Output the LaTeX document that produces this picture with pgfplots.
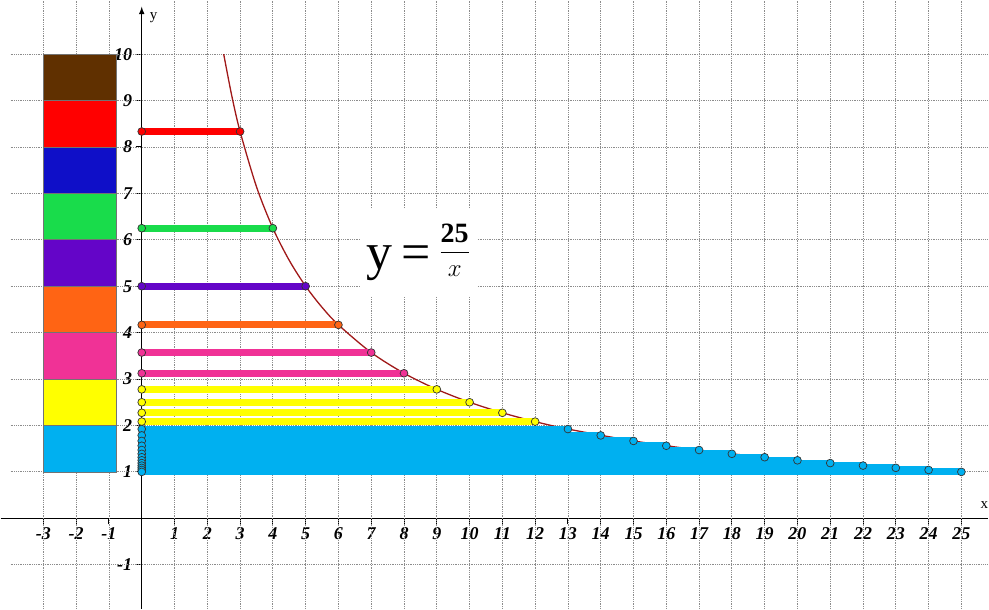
\documentclass[border=0pt]{standalone}
\usepackage{pgfplots}
\pgfplotsset{compat=1.18}
\usepackage{amsmath}
\usepackage{fontspec}
\setmainfont{Liberation Serif}

\definecolor{cbrown}{RGB}{96,48,0}
\definecolor{cred}{RGB}{255,0,0}
\definecolor{cblue}{RGB}{15,15,200}
\definecolor{cgreen}{RGB}{25,220,75}
\definecolor{cpurple}{RGB}{100,5,200}
\definecolor{corange}{RGB}{255,100,20}
\definecolor{cpink}{RGB}{240,50,150}
\definecolor{cyellow}{RGB}{255,255,0}
\definecolor{clight}{RGB}{0,176,240}
\definecolor{curve}{RGB}{160,25,25}

\pgfplotsset{
  hbar/.style={color=#1, line width=7pt, mark=*, mark size=3.9pt,
    mark options={fill=#1, draw=black!80, line width=0.7pt}},
  swatch/.style={fill=#1, draw=black!55, line width=0.7pt},
}

\begin{document}
\begin{tikzpicture}
\begin{axis}[
  width=989pt, height=609pt, scale only axis,
  xmin=-4.30, xmax=25.82, ymin=-1.95, ymax=11.15,
  axis lines=middle,
  axis line style={line width=1.5pt, black},
  x axis line style={-},
  y axis line style={-latex, shorten >=6pt},
  xtick={-3,-2,-1,1,2,...,25},
  ytick={-1,1,2,...,10},
  tick align=outside, major tick length=6pt,
  tick style={line width=1pt, black},
  ticklabel style={font=\fontsize{18}{18}\selectfont\bfseries\itshape},
  /pgf/number format/assume math mode=true,
]

% dotted grid
\pgfplotsinvokeforeach{-3,-2,-1,1,2,...,25}{
  \draw[gray!90, densely dotted, line width=0.8pt] (axis cs:#1,-1.95) -- (axis cs:#1,11.15);
}
\pgfplotsinvokeforeach{-1,1,2,...,10}{
  \draw[gray!90, densely dotted, line width=0.8pt] (axis cs:-4,#1) -- (axis cs:25.82,#1);
}

% colour column on the left
\addplot[swatch=clight]  coordinates {(-3,1) (-0.77,1) (-0.77,2) (-3,2) (-3,1)};
\addplot[swatch=cyellow] coordinates {(-3,2) (-0.77,2) (-0.77,3) (-3,3) (-3,2)};
\addplot[swatch=cpink]   coordinates {(-3,3) (-0.77,3) (-0.77,4) (-3,4) (-3,3)};
\addplot[swatch=corange] coordinates {(-3,4) (-0.77,4) (-0.77,5) (-3,5) (-3,4)};
\addplot[swatch=cpurple] coordinates {(-3,5) (-0.77,5) (-0.77,6) (-3,6) (-3,5)};
\addplot[swatch=cgreen]  coordinates {(-3,6) (-0.77,6) (-0.77,7) (-3,7) (-3,6)};
\addplot[swatch=cblue]   coordinates {(-3,7) (-0.77,7) (-0.77,8) (-3,8) (-3,7)};
\addplot[swatch=cred]    coordinates {(-3,8) (-0.77,8) (-0.77,9) (-3,9) (-3,8)};
\addplot[swatch=cbrown]  coordinates {(-3,9) (-0.77,9) (-0.77,10) (-3,10) (-3,9)};

% the curve y = 25/x
\addplot[smooth, color=curve, line width=1.3pt] coordinates {
  (2.5,10) (2.75,9.091) (3,8.333) (3.5,7.143) (4,6.25) (4.5,5.556) (5,5)
  (5.5,4.545) (6,4.167) (7,3.571) (8,3.125) (9,2.778) (10,2.5) (11,2.273)
  (12,2.083) (13,1.923) (15,1.667) (17,1.471) (19,1.316) (21,1.190)
  (23,1.087) (25,1.0)
};

% horizontal bars
\addplot[hbar=cred]    coordinates {(0,8.333) (3,8.333)};
\addplot[hbar=cgreen]  coordinates {(0,6.25) (4,6.25)};
\addplot[hbar=cpurple] coordinates {(0,5) (5,5)};
\addplot[hbar=corange] coordinates {(0,4.167) (6,4.167)};
\addplot[hbar=cpink]   coordinates {(0,3.571) (7,3.571)};
\addplot[hbar=cpink]   coordinates {(0,3.125) (8,3.125)};
\addplot[hbar=cyellow] coordinates {(0,2.778) (9,2.778)};
\addplot[hbar=cyellow] coordinates {(0,2.5) (10,2.5)};
\addplot[hbar=cyellow] coordinates {(0,2.273) (11,2.273)};
\addplot[hbar=cyellow] coordinates {(0,2.083) (12,2.083)};
\addplot[hbar=clight]  coordinates {(0,1.923) (13,1.923)};
\addplot[hbar=clight]  coordinates {(0,1.786) (14,1.786)};
\addplot[hbar=clight]  coordinates {(0,1.667) (15,1.667)};
\addplot[hbar=clight]  coordinates {(0,1.563) (16,1.563)};
\addplot[hbar=clight]  coordinates {(0,1.471) (17,1.471)};
\addplot[hbar=clight]  coordinates {(0,1.389) (18,1.389)};
\addplot[hbar=clight]  coordinates {(0,1.316) (19,1.316)};
\addplot[hbar=clight]  coordinates {(0,1.25) (20,1.25)};
\addplot[hbar=clight]  coordinates {(0,1.190) (21,1.190)};
\addplot[hbar=clight]  coordinates {(0,1.136) (22,1.136)};
\addplot[hbar=clight]  coordinates {(0,1.087) (23,1.087)};
\addplot[hbar=clight]  coordinates {(0,1.042) (24,1.042)};
\addplot[hbar=clight]  coordinates {(0,1.0) (25,1.0)};

% formula
\node[fill=white, minimum width=117pt, minimum height=87pt, inner sep=0pt]
  at (axis cs:8.44,5.735) {%
  {\fontsize{52}{52}\selectfont y\,=\,}%
  \raisebox{10pt}{\fontsize{28}{28}\selectfont$\displaystyle\frac{\textbf{25}}{x}$}};

% axis names
\node[font=\fontsize{15}{15}\selectfont] at (axis cs:0.36,10.78) {y};
\node[font=\fontsize{15}{15}\selectfont] at (axis cs:25.7,0.28) {x};
\end{axis}
\end{tikzpicture}
\end{document}
